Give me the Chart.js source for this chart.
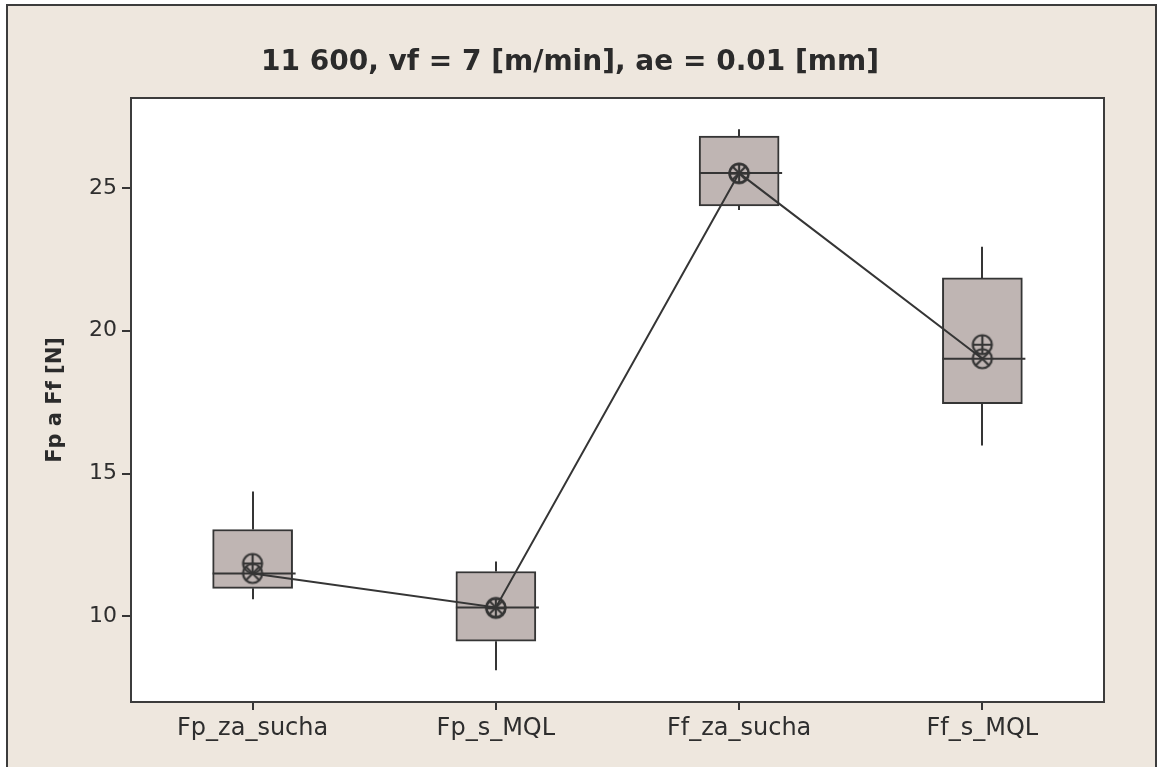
<!DOCTYPE html>
<html>
<head>
<meta charset="utf-8">
<script src="https://cdn.jsdelivr.net/npm/chart.js@4.4.0/dist/chart.umd.min.js"></script>
<style>
html,body{margin:0;padding:0;background:#fff;}
#wrap{width:1158px;height:767px;}
</style>
</head>
<body>
<div id="wrap"><canvas id="c" width="1158" height="767"></canvas></div>
<script>
const categories = ['Fp_za_sucha', 'Fp_s_MQL', 'Ff_za_sucha', 'Ff_s_MQL'];
const q1Values = [10.98, 9.13, 24.37, 17.45];
const q3Values = [13.04, 11.57, 26.82, 21.85];
const medianValues = [11.5, 10.31, 25.52, 19.02];
const minValues = [10.6, 8.11, 24.23, 15.98];
const maxValues = [14.37, 11.92, 27.06, 22.94];
const meanValues = [11.85, 10.28, 25.5, 19.51];
const yTicks = [10, 15, 20, 25];
const titleText = '11 600, vf = 7 [m/min], ae = 0.01 [mm]';
const yTitle = 'Fp a Ff [N]';

const INK = '#353535';
const FONT = "'DejaVu Sans', Verdana, sans-serif";

function makeSymbol(kind) {
  const s = 26, c = document.createElement('canvas');
  c.width = s; c.height = s;
  const g = c.getContext('2d');
  g.strokeStyle = INK; g.lineWidth = 2.2;
  const r = 9.5, m = s / 2;
  g.beginPath(); g.arc(m, m, r, 0, Math.PI * 2); g.stroke();
  g.beginPath();
  if (kind === 'x') {
    const d = r * Math.SQRT1_2;
    g.moveTo(m - d, m - d); g.lineTo(m + d, m + d);
    g.moveTo(m + d, m - d); g.lineTo(m - d, m + d);
  } else {
    g.moveTo(m - r, m); g.lineTo(m + r, m);
    g.moveTo(m, m - r); g.lineTo(m, m + r);
  }
  g.stroke();
  return c;
}
const symX = makeSymbol('x');
const symPlus = makeSymbol('plus');

const framePlugin = {
  id: 'frame',
  beforeDraw(chart) {
    const {ctx, chartArea: a} = chart;
    ctx.save();
    ctx.fillStyle = '#ffffff';
    ctx.fillRect(0, 0, chart.width, chart.height);
    ctx.fillStyle = '#EEE7DE';
    ctx.fillRect(7, 5, 1149, 780);
    ctx.strokeStyle = '#3c3c3c';
    ctx.lineWidth = 2;
    ctx.strokeRect(7, 5, 1149, 780);
    ctx.fillStyle = '#ffffff';
    ctx.fillRect(a.left, a.top, a.right - a.left, a.bottom - a.top);
    ctx.restore();
  },
  beforeDatasetsDraw(chart) {
    const {ctx} = chart;
    const y = chart.scales.y;
    const meta = chart.getDatasetMeta(0);
    ctx.save();
    ctx.strokeStyle = INK;
    ctx.lineWidth = 2;
    meta.data.forEach((bar, i) => {
      const x = Math.round(bar.x);
      ctx.beginPath();
      ctx.moveTo(x, y.getPixelForValue(q3Values[i]));
      ctx.lineTo(x, y.getPixelForValue(maxValues[i]));
      ctx.moveTo(x, y.getPixelForValue(q1Values[i]));
      ctx.lineTo(x, y.getPixelForValue(minValues[i]));
      ctx.stroke();
    });
    ctx.restore();
  },
  afterDatasetDraw(chart, args) {
    if (args.index !== 0) return;
    const {ctx} = chart;
    const y = chart.scales.y;
    ctx.save();
    ctx.strokeStyle = INK;
    ctx.lineWidth = 2;
    args.meta.data.forEach((bar, i) => {
      const py = y.getPixelForValue(medianValues[i]);
      ctx.beginPath();
      ctx.moveTo(bar.x - bar.width / 2, py);
      ctx.lineTo(bar.x + bar.width / 2 + 3, py);
      ctx.stroke();
    });
    ctx.restore();
  },
  afterDraw(chart) {
    const {ctx, chartArea: a} = chart;
    ctx.save();
    ctx.strokeStyle = '#3c3c3c';
    ctx.lineWidth = 2;
    ctx.strokeRect(a.left, a.top, a.right - a.left, a.bottom - a.top);
    ctx.restore();
  }
};

new Chart(document.getElementById('c'), {
  data: {
    labels: categories,
    datasets: [
      {
        type: 'bar',
        data: categories.map((c, i) => [q1Values[i], q3Values[i]]),
        backgroundColor: '#BFB5B3',
        borderColor: INK,
        borderWidth: 2,
        borderSkipped: false,
        barThickness: 80,
        order: 3
      },
      {
        type: 'line',
        data: medianValues,
        borderColor: INK,
        borderWidth: 2,
        pointStyle: symX,
        pointRadius: 10,
        order: 2
      },
      {
        type: 'line',
        data: meanValues,
        showLine: false,
        pointStyle: symPlus,
        pointRadius: 10,
        order: 1
      }
    ]
  },
  plugins: [framePlugin],
  options: {
    responsive: false,
    animation: false,
    devicePixelRatio: 1,
    layout: {padding: {left: 36, right: 54, top: 0, bottom: 0}},
    plugins: {
      legend: {display: false},
      tooltip: {enabled: false},
      title: {
        display: true,
        text: titleText,
        color: '#2b2b2b',
        font: {family: FONT, size: 28, weight: 'bold', lineHeight: 1.2},
        padding: {top: 45.7, bottom: 18.7}
      }
    },
    scales: {
      x: {
        type: 'category',
        offset: true,
        afterFit(s) { s.height = 65; },
        grid: {drawOnChartArea: false, drawTicks: true, tickLength: 8, color: INK, lineWidth: 2, offset: false},
        border: {display: false},
        ticks: {color: '#2e2e2e', font: {family: FONT, size: 24}, padding: 4, maxRotation: 0}
      },
      y: {
        type: 'linear',
        min: 7.0,
        max: 28.15,
        afterFit(s) { s.width = 95; },
        afterBuildTicks(s) { s.ticks = yTicks.map(v => ({value: v})); },
        grid: {drawOnChartArea: false, drawTicks: true, tickLength: 9, color: INK, lineWidth: 2},
        border: {display: false},
        ticks: {color: '#2e2e2e', font: {family: FONT, size: 22}, padding: 5},
        title: {
          display: true,
          text: yTitle,
          color: '#2b2b2b',
          font: {family: FONT, size: 21, weight: 'bold', lineHeight: 1.2},
          padding: {top: 7}
        }
      }
    }
  }
});
</script>
</body>
</html>
